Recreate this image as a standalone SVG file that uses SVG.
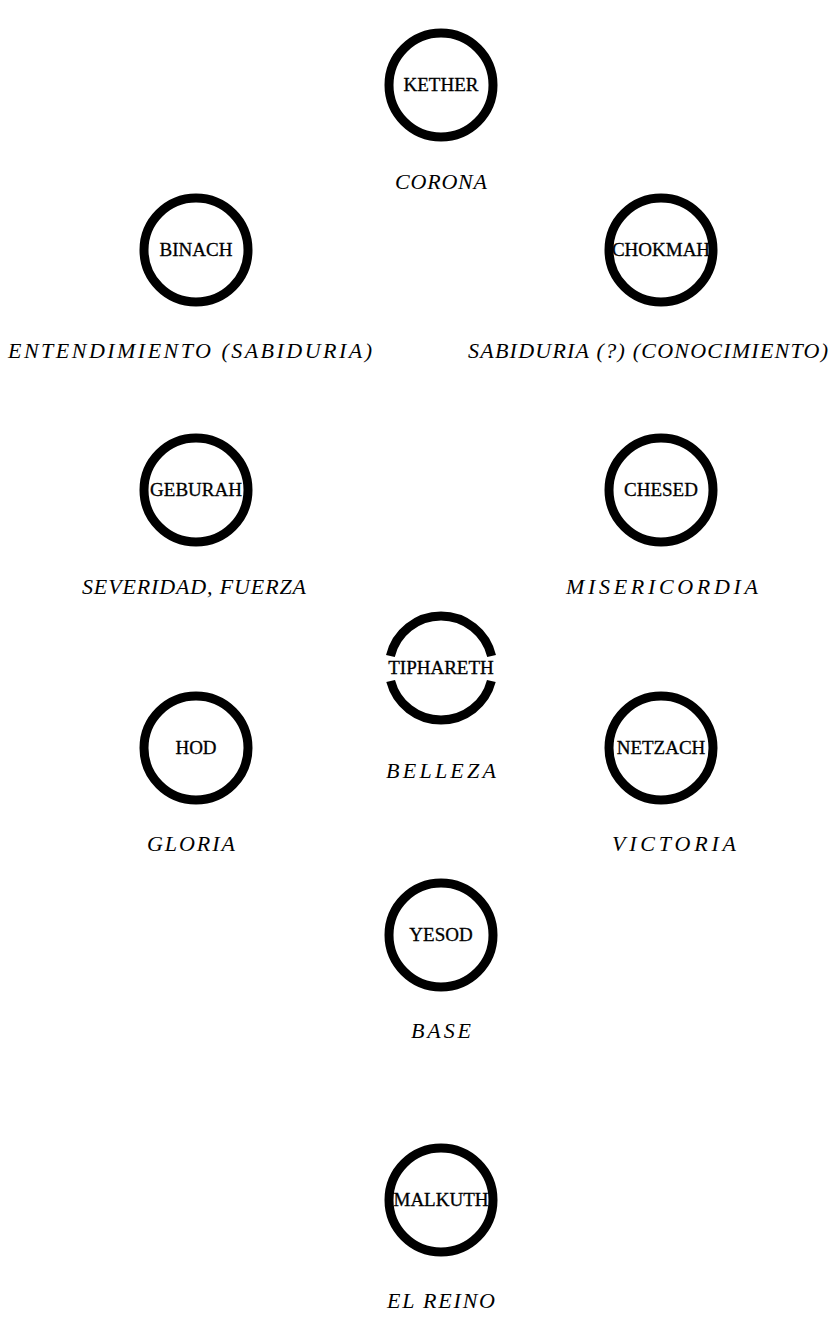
<svg xmlns="http://www.w3.org/2000/svg" width="832" height="1338" viewBox="0 0 832 1338">
<style>
.ring{fill:none;stroke:#000;stroke-width:9}
.name{font-family:"Liberation Serif",serif;font-size:19px;fill:#000;text-anchor:middle;stroke:#000;stroke-width:0.3}
.lab{font-family:"Liberation Serif",serif;font-style:italic;font-size:22px;fill:#000;text-anchor:middle}
</style>
<rect width="832" height="1338" fill="#fff"/>
<g id="connectors"></g>
<g id="kether"><circle class="ring" cx="441" cy="85" r="52"/><text class="name" x="441" y="91">KETHER</text><text class="lab" x="441" y="189" textLength="92" lengthAdjust="spacing">CORONA</text></g>
<g id="binach"><circle class="ring" cx="196" cy="250" r="52"/><text class="name" x="196" y="256">BINACH</text><text class="lab" x="190" y="358" textLength="364" lengthAdjust="spacing">ENTENDIMIENTO  (SABIDURIA)</text></g>
<g id="chokmah"><circle class="ring" cx="661" cy="250" r="52"/><text class="name" x="661" y="256">CHOKMAH</text><text class="lab" x="648" y="358" textLength="360" lengthAdjust="spacing">SABIDURIA  (?)  (CONOCIMIENTO)</text></g>
<g id="geburah"><circle class="ring" cx="196" cy="490" r="52"/><text class="name" x="196" y="496">GEBURAH</text><text class="lab" x="194" y="594" textLength="224" lengthAdjust="spacing">SEVERIDAD,  FUERZA</text></g>
<g id="chesed"><circle class="ring" cx="661" cy="490" r="52"/><text class="name" x="661" y="496">CHESED</text><text class="lab" x="662" y="594" textLength="192" lengthAdjust="spacing">MISERICORDIA</text></g>
<g id="tiphareth"><path class="ring" d="M 390.4 656 A 52 52 0 0 1 491.6 656"/><path class="ring" d="M 491.35 681 A 52 52 0 0 1 390.65 681"/><text class="name" x="441" y="674">TIPHARETH</text><text class="lab" x="441" y="778" textLength="110" lengthAdjust="spacing">BELLEZA</text></g>
<g id="hod"><circle class="ring" cx="196" cy="748" r="52"/><text class="name" x="196" y="754">HOD</text><text class="lab" x="191" y="851" textLength="88" lengthAdjust="spacing">GLORIA</text></g>
<g id="netzach"><circle class="ring" cx="661" cy="748" r="52"/><text class="name" x="661" y="754">NETZACH</text><text class="lab" x="674" y="851" textLength="124" lengthAdjust="spacing">VICTORIA</text></g>
<g id="yesod"><circle class="ring" cx="441" cy="935" r="52"/><text class="name" x="441" y="941">YESOD</text><text class="lab" x="441" y="1038" textLength="60" lengthAdjust="spacing">BASE</text></g>
<g id="malkuth"><circle class="ring" cx="441" cy="1200" r="52"/><text class="name" x="441" y="1206">MALKUTH</text><text class="lab" x="441" y="1308" textLength="108" lengthAdjust="spacing">EL REINO</text></g>
</svg>
